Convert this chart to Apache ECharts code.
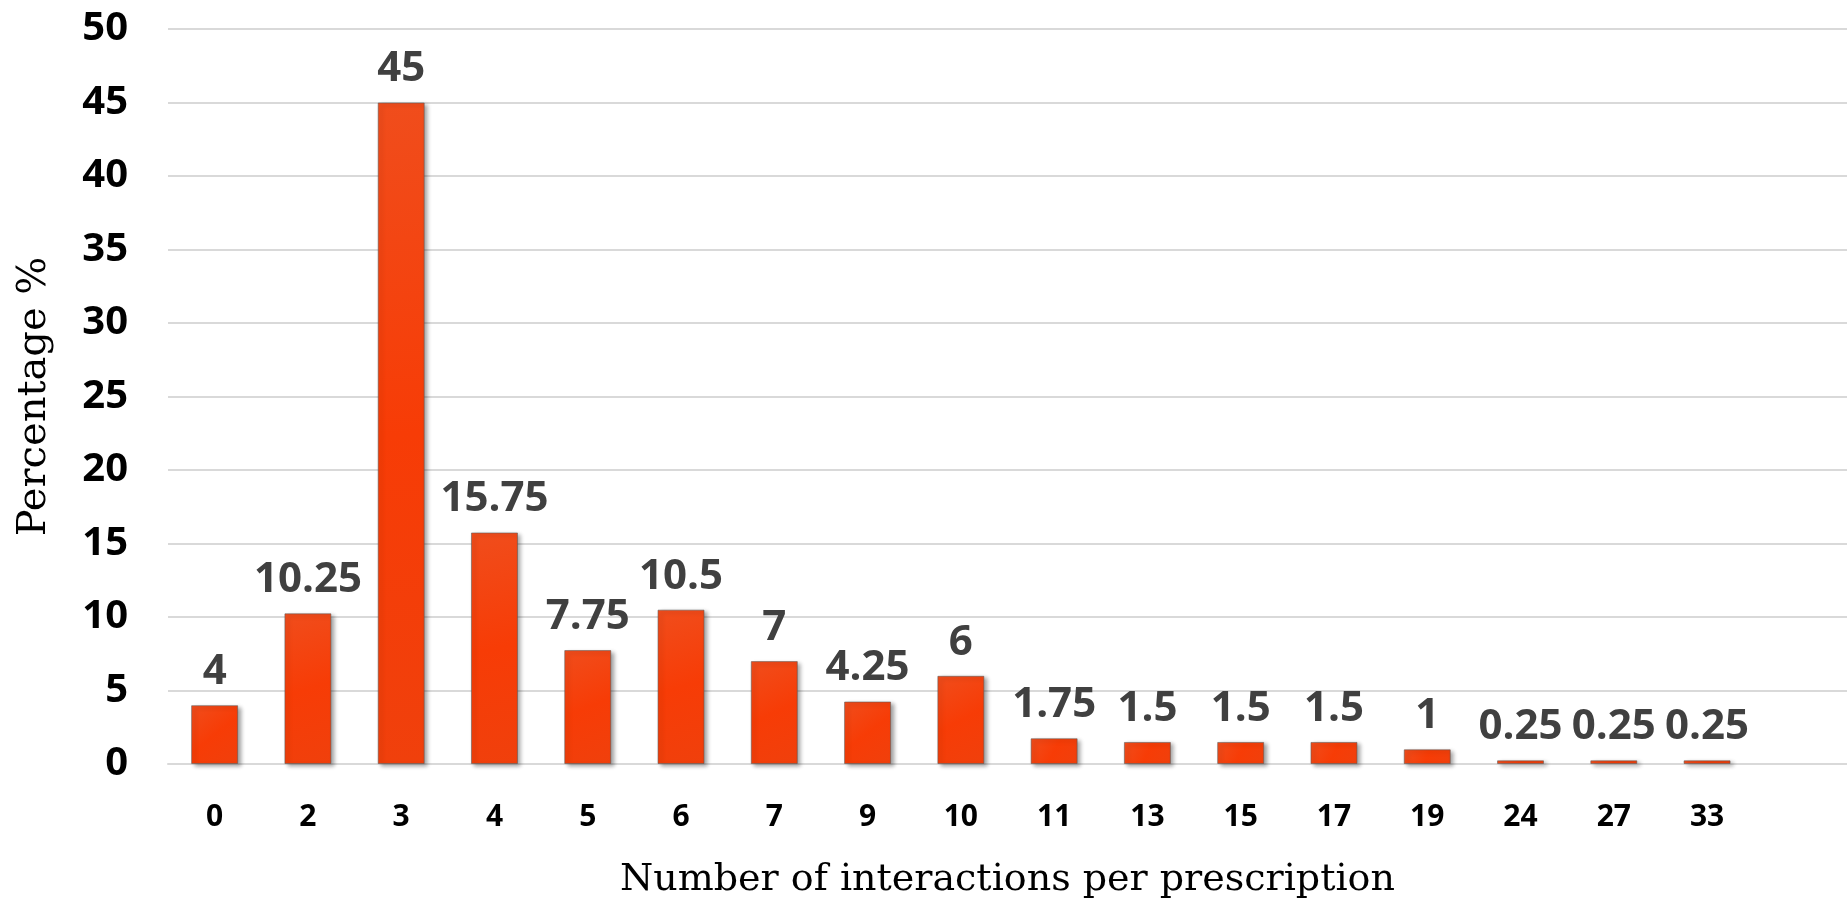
<!DOCTYPE html>
<html>
<head>
<meta charset="utf-8">
<title>Number of interactions per prescription</title>
<script src="https://cdn.jsdelivr.net/npm/echarts@6/dist/echarts.min.js"></script>
<style>
  html, body { margin: 0; padding: 0; background: #ffffff; }
  #chart { width: 1847px; height: 903px; }
</style>
</head>
<body>
<div id="chart"></div>
<script>
// Interaction counts per prescription and their share of prescriptions (%)
const categories = ['0', '2', '3', '4', '5', '6', '7', '9', '10', '11', '13', '15', '17', '19', '24', '27', '33'];
const percentages = [4, 10.25, 45, 15.75, 7.75, 10.5, 7, 4.25, 6, 1.75, 1.5, 1.5, 1.5, 1, 0.25, 0.25, 0.25];
const yTicks = { min: 0, max: 50, interval: 5 };

// one blank slot at the right keeps the gridlines running past the last bar
const axisCategories = categories.concat(['']);
const barValues = percentages.concat([null]);

const chart = echarts.init(document.getElementById('chart'), null, { renderer: 'canvas' });

const barFill = new echarts.graphic.LinearGradient(0, 0, 1, 1, [
  { offset: 0, color: '#f04d1c' },
  { offset: 0.5, color: '#f73c06' },
  { offset: 1, color: '#f0400c' }
]);

chart.setOption({
  animation: false,
  backgroundColor: '#ffffff',
  grid: { left: 168, right: 0, top: 29, bottom: 139, containLabel: false, outerBoundsMode: 'none' },
  xAxis: {
    type: 'category',
    data: axisCategories,
    name: 'Number of interactions per prescription',
    nameLocation: 'middle',
    nameGap: 97,
    nameTextStyle: { fontFamily: 'DejaVu Serif', fontSize: 38, color: '#000000' },
    axisLine: { show: true, lineStyle: { color: '#d9d9d9', width: 2 } },
    axisTick: { show: false },
    axisLabel: {
      margin: 38,
      fontFamily: 'Open Sans',
      fontWeight: 'bold',
      fontSize: 30,
      color: '#000000'
    }
  },
  yAxis: {
    type: 'value',
    min: yTicks.min,
    max: yTicks.max,
    interval: yTicks.interval,
    name: 'Percentage %',
    nameLocation: 'middle',
    nameGap: 113,
    nameRotate: 90,
    nameTextStyle: { fontFamily: 'DejaVu Serif', fontSize: 40, color: '#000000' },
    axisLine: { show: false },
    axisTick: { show: false },
    splitLine: { show: true, lineStyle: { color: '#d9d9d9', width: 2 } },
    axisLabel: {
      margin: 40,
      fontFamily: 'Open Sans',
      fontWeight: 'bold',
      fontSize: 40,
      color: '#000000'
    }
  },
  series: [{
    type: 'bar',
    data: barValues,
    barWidth: 47,
    itemStyle: {
      color: barFill,
      borderColor: 'rgba(90,90,90,0.55)',
      borderWidth: 1,
      shadowColor: 'rgba(0,0,0,0.35)',
      shadowBlur: 4,
      shadowOffsetX: 3,
      shadowOffsetY: 2
    },
    label: {
      show: true,
      position: 'top',
      distance: 12,
      fontFamily: 'Open Sans',
      fontWeight: 'bold',
      fontSize: 42,
      color: '#404040'
    }
  }]
});
</script>
</body>
</html>
